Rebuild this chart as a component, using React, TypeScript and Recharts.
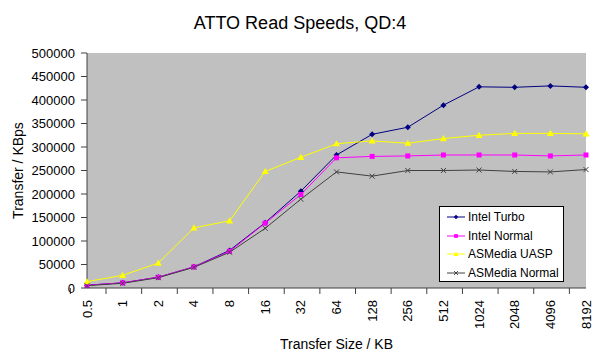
import React from 'react';
import { LineChart, Line, XAxis, YAxis, CartesianGrid, Legend, Label } from 'recharts';

const sizes = ['0.5', '1', '2', '4', '8', '16', '32', '64', '128', '256', '512', '1024', '2048', '4096', '8192'];
const intelTurbo = [6000, 11000, 23000, 45000, 80000, 139000, 206000, 283000, 327000, 342000, 389000, 428000, 427000, 430000, 427000];
const intelNormal = [6000, 11000, 23000, 45000, 78000, 138000, 199000, 277000, 280000, 281000, 283000, 283000, 283000, 281000, 283000];
const asmediaUasp = [13500, 27000, 53000, 128000, 143000, 248000, 278000, 307000, 313000, 308000, 318000, 325000, 329000, 329000, 328000];
const asmediaNormal = [5000, 10000, 22000, 44000, 76000, 127000, 189000, 247000, 238000, 250000, 250000, 251000, 248000, 247000, 252000];
const yTicks = [0, 50000, 100000, 150000, 200000, 250000, 300000, 350000, 400000, 450000, 500000];

const data = sizes.map((s, i) => ({
  size: s,
  turbo: intelTurbo[i],
  normal: intelNormal[i],
  uasp: asmediaUasp[i],
  asmNormal: asmediaNormal[i],
}));

const FONT = 'Arial, "Liberation Sans", sans-serif';

type MarkerKind = 'diamond' | 'square' | 'triangle' | 'x';

const Marker = ({ kind, cx, cy, color, s = 1 }: { kind: MarkerKind; cx: number; cy: number; color: string; s?: number }) => {
  if (cx == null || cy == null) return null;
  if (kind === 'diamond') {
    const r = 3 * s;
    return <polygon points={`${cx},${cy - r} ${cx + r},${cy} ${cx},${cy + r} ${cx - r},${cy}`} fill={color} />;
  }
  if (kind === 'square') {
    const h = 2.5 * s;
    return <rect x={cx - h} y={cy - h} width={2 * h} height={2 * h} fill={color} />;
  }
  if (kind === 'triangle') {
    const r = 3.5 * s;
    return <polygon points={`${cx},${cy - r} ${cx + r},${cy + r * 0.75} ${cx - r},${cy + r * 0.75}`} fill={color} />;
  }
  const r = 2.5 * s;
  return (
    <g stroke={color} strokeWidth={1}>
      <line x1={cx - r} y1={cy - r} x2={cx + r} y2={cy + r} />
      <line x1={cx - r} y1={cy + r} x2={cx + r} y2={cy - r} />
    </g>
  );
};

const series: { key: string; name: string; color: string; marker: MarkerKind }[] = [
  { key: 'turbo', name: 'Intel Turbo', color: '#000080', marker: 'diamond' },
  { key: 'normal', name: 'Intel Normal', color: '#FF00FF', marker: 'square' },
  { key: 'uasp', name: 'ASMedia UASP', color: '#FFFF00', marker: 'triangle' },
  { key: 'asmNormal', name: 'ASMedia Normal', color: '#404040', marker: 'x' },
];

const XTick = (props: any) => {
  const { x, y, payload, index, width, visibleTicksCount } = props;
  const n = visibleTicksCount || sizes.length;
  const bw = (width || 499) / n;
  const left = x - bw / 2;
  const right = x + bw / 2;
  return (
    <g>
      <line x1={left} y1={y} x2={left} y2={y + 6} stroke="#404040" />
      {index === n - 1 && <line x1={right} y1={y} x2={right} y2={y + 6} stroke="#404040" />}
      <text
        x={x}
        y={y + 12}
        transform={`rotate(-90, ${x}, ${y + 12})`}
        textAnchor="end"
        dominantBaseline="central"
        fontSize={13}
        fontFamily={FONT}
        fill="#000"
      >
        {payload.value}
      </text>
    </g>
  );
};

const LegendBox = () => (
  <div
    style={{
      border: '1px solid #000',
      background: '#fff',
      width: 123,
      height: 73,
      boxSizing: 'content-box',
      paddingTop: 1,
      fontFamily: FONT,
      fontSize: 12,
      lineHeight: '12px',
    }}
  >
    {series.map((s) => (
      <div key={s.key} style={{ display: 'flex', alignItems: 'center', height: 18.5 }}>
        <svg width={27} height={10} style={{ display: 'block' }}>
          <line x1={7} y1={5} x2={25} y2={5} stroke={s.color} strokeWidth={1} />
          <Marker kind={s.marker} cx={16} cy={5} color={s.color} s={0.75} />
        </svg>
        <span style={{ marginLeft: 1, color: '#000', whiteSpace: 'nowrap' }}>{s.name}</span>
      </div>
    ))}
  </div>
);

export default function App() {
  return (
    <div style={{ position: 'absolute', left: 0, top: 0, width: 600, height: 356, background: '#fff' }}>
      <div
        style={{
          position: 'absolute',
          left: 0,
          top: 14,
          width: 600,
          textAlign: 'center',
          fontFamily: FONT,
          fontSize: 18,
          lineHeight: '18px',
          color: '#000',
        }}
      >
        ATTO Read Speeds, QD:4
      </div>
      <LineChart width={600} height={356} data={data} margin={{ top: 53, right: 14, left: 0, bottom: 0 }}>
        <CartesianGrid horizontal={false} vertical={false} fill="#C0C0C0" />
        <XAxis
          dataKey="size"
          interval={0}
          tickSize={0}
          tickMargin={0}
          tickLine={false}
          axisLine={{ stroke: '#404040' }}
          tick={<XTick />}
          height={68}
        >
          <Label
            value="Transfer Size / KB"
            position="insideBottom"
            offset={7}
            style={{ fontFamily: FONT, fontSize: 14, fill: '#000' }}
          />
        </XAxis>
        <XAxis xAxisId="top" dataKey="size" orientation="top" height={0} tick={false} tickLine={false} axisLine={{ stroke: '#909090' }} />
        <YAxis
          domain={[0, 500000]}
          ticks={yTicks}
          interval={0}
          width={87}
          tickSize={6}
          tickMargin={6}
          tickLine={{ stroke: '#404040' }}
          axisLine={{ stroke: '#404040' }}
          tick={{ fontFamily: FONT, fontSize: 13, fill: '#000' }}
        >
          <Label
            value="Transfer / KBps"
            angle={-90}
            position="insideLeft"
            offset={18}
            style={{ fontFamily: FONT, fontSize: 14, fill: '#000', textAnchor: 'middle' }}
          />
        </YAxis>
        <YAxis yAxisId="right" orientation="right" domain={[0, 500000]} width={0} tick={false} tickLine={false} axisLine={{ stroke: '#808080' }} />
        <Legend
          layout="horizontal"
          verticalAlign="middle"
          align="center"
          content={<LegendBox />}
          wrapperStyle={{ position: 'absolute', left: 439, top: 206, width: 125, height: 75 }}
        />
        {series.map((s) => (
          <Line
            key={s.key}
            type="linear"
            dataKey={s.key}
            name={s.name}
            stroke={s.color}
            strokeWidth={1}
            isAnimationActive={false}
            dot={(p: any) => <Marker key={`${s.key}-${p.index}`} kind={s.marker} cx={p.cx} cy={p.cy} color={s.color} />}
            activeDot={false}
          />
        ))}
      </LineChart>
    </div>
  );
}
